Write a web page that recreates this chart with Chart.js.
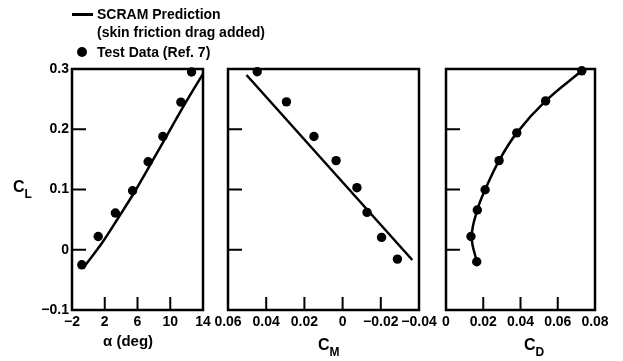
<!DOCTYPE html>
<html>
<head>
<meta charset="utf-8">
<script src="https://cdn.jsdelivr.net/npm/chart.js@4"></script>
<style>
  body { margin: 0; background: #fff; }
  #wrap { position: relative; width: 623px; height: 361px; font-family: "Liberation Sans", Arial, sans-serif; font-weight: bold; color: #000; }
  canvas { position: absolute; left: 0; top: 0; }
  .t { position: absolute; white-space: nowrap; line-height: 1; }
  .sub { font-size: 12px; position: relative; top: 6px; }
</style>
</head>
<body>
<div id="wrap">
  <canvas id="c1" width="623" height="361"></canvas>
  <canvas id="c2" width="623" height="361"></canvas>
  <canvas id="c3" width="623" height="361"></canvas>

  <!-- legend -->
  <div style="position:absolute;left:72px;top:13px;width:21px;height:3px;background:#000"></div>
  <div class="t" style="left:97px;top:7px;font-size:14px">SCRAM Prediction</div>
  <div class="t" style="left:97px;top:25px;font-size:14px">(skin friction drag added)</div>
  <div style="position:absolute;left:77px;top:47px;width:10px;height:10px;border-radius:50%;background:#000"></div>
  <div class="t" style="left:97px;top:45px;font-size:14px">Test Data (Ref. 7)</div>

  <!-- axis titles -->
  <div class="t" style="left:13px;top:179px;font-size:16px">C<span class="sub">L</span></div>
  <div class="t" style="left:103px;top:333px;font-size:15px">α (deg)</div>
  <div class="t" style="left:318px;top:337px;font-size:16px">C<span class="sub">M</span></div>
  <div class="t" style="left:524px;top:337px;font-size:16px">C<span class="sub">D</span></div>
</div>
<script>
// lift vs angle of attack
var alphaTest = [-0.8, 1.2, 3.3, 5.4, 7.3, 9.1, 11.3, 12.6];
var clTestA   = [-0.025, 0.022, 0.061, 0.098, 0.146, 0.188, 0.245, 0.295];
var alphaPred = [-0.5, 1.7, 3.7, 5.6, 7.6, 9.6, 11.7, 14];
var clPredA   = [-0.028, 0.012, 0.054, 0.095, 0.142, 0.19, 0.24, 0.292];

// lift vs pitching moment
var cmTest  = [0.0447, 0.0294, 0.015, 0.0034, -0.0075, -0.0128, -0.0204, -0.0287];
var clTestM = [0.2955, 0.2455, 0.188, 0.148, 0.103, 0.062, 0.0205, -0.0155];
var cmPred  = [0.0503, -0.0365];
var clPredM = [0.29, -0.017];

// lift vs drag
var cdTest  = [0.0165, 0.0134, 0.0168, 0.021, 0.0285, 0.038, 0.0535, 0.0729];
var clTestD = [-0.02, 0.022, 0.066, 0.0995, 0.148, 0.194, 0.247, 0.297];
var cdPred  = [0.0165, 0.0138, 0.0168, 0.021, 0.0285, 0.038, 0.0535, 0.0729];
var clPredD = [-0.02, 0.022, 0.066, 0.0995, 0.148, 0.194, 0.247, 0.297];

var yTicks = [-0.1, 0, 0.1, 0.2, 0.3];

function pts(xs, ys) {
    return xs.map(function (x, i) { return { x: x, y: ys[i] }; });
}

function fmt(dec) {
    return function (v) {
        var r = Math.round(v * 1000) / 1000;
        if (Math.abs(r) < 1e-9) return '0';
        return (r < 0 ? '\u2212' : '') + Math.abs(r).toFixed(dec);
    };
}

var font = { family: '"Liberation Sans", Arial, sans-serif', size: 14, weight: 'bold' };

// frame + inward tick marks
var framePlugin = {
    id: 'frame',
    afterDraw: function (chart) {
        var a = chart.chartArea, c = chart.ctx;
        var xs = chart.scales.x, ys = chart.scales.y;
        c.save();
        c.strokeStyle = '#000';
        c.lineWidth = 2;
        yTicks.forEach(function (v) {
            if (v <= ys.min || v >= ys.max) return;
            var py = ys.getPixelForValue(v);
            c.beginPath(); c.moveTo(a.left, py); c.lineTo(a.left + 14, py); c.stroke();
        });
        xs.ticks.forEach(function (t) {
            if (t.value <= xs.min + 1e-9 || t.value >= xs.max - 1e-9) return;
            var px = xs.getPixelForValue(t.value);
            c.beginPath(); c.moveTo(px, a.bottom); c.lineTo(px, a.bottom - 13); c.stroke();
        });
        c.lineWidth = 2.5;
        c.strokeRect(a.left, a.top, a.right - a.left, a.bottom - a.top);
        c.restore();
    }
};

function makeChart(id, pred, test, curve, xOpts, pad, showY) {
    new Chart(document.getElementById(id), {
        type: 'scatter',
        data: {
            datasets: [Object.assign({
                data: pred,
                showLine: true,
                borderColor: '#000',
                borderWidth: 2.5,
                pointRadius: 0,
                clip: false
            }, curve), {
                data: test,
                pointRadius: 4.7,
                backgroundColor: '#000',
                borderWidth: 0,
                clip: false
            }]
        },
        options: {
            responsive: false,
            animation: false,
            events: [],
            layout: { padding: pad },
            plugins: { legend: { display: false }, tooltip: { enabled: false } },
            scales: {
                x: Object.assign({
                    grid: { display: false, drawTicks: false },
                    border: { display: false },
                    afterFit: function (s) { s.height = 30; }
                }, xOpts),
                y: {
                    display: showY,
                    min: -0.1,
                    max: 0.3,
                    grid: { display: false, drawTicks: false },
                    border: { display: false },
                    ticks: { stepSize: 0.1, color: '#000', font: font, padding: 3, callback: fmt(1) },
                    afterFit: function (s) { s.width = showY ? 72 : 0; }
                }
            }
        },
        plugins: [framePlugin]
    });
}

makeChart('c1', pts(alphaPred, clPredA), pts(alphaTest, clTestA), { cubicInterpolationMode: 'monotone' }, {
    min: -2, max: 14,
    ticks: { stepSize: 4, color: '#000', font: font, padding: 4, maxRotation: 0,
             callback: function (v) { return v < 0 ? '\u2212' + Math.abs(v) : String(v); } }
}, { left: 0, right: 420, top: 69, bottom: 21 }, true);

makeChart('c2', pts(cmPred, clPredM), pts(cmTest, clTestM), { tension: 0 }, {
    min: -0.04, max: 0.06, reverse: true,
    ticks: { stepSize: 0.02, color: '#000', font: font, padding: 4, maxRotation: 0, autoSkip: false, callback: fmt(2) }
}, { left: 228, right: 204, top: 69, bottom: 21 }, false);

makeChart('c3', pts(cdPred, clPredD), pts(cdTest, clTestD), { tension: 0.4 }, {
    min: 0, max: 0.08,
    ticks: { stepSize: 0.02, color: '#000', font: font, padding: 4, maxRotation: 0, autoSkip: false, callback: fmt(2) }
}, { left: 446, right: 28, top: 69, bottom: 21 }, false);
</script>
</body>
</html>
